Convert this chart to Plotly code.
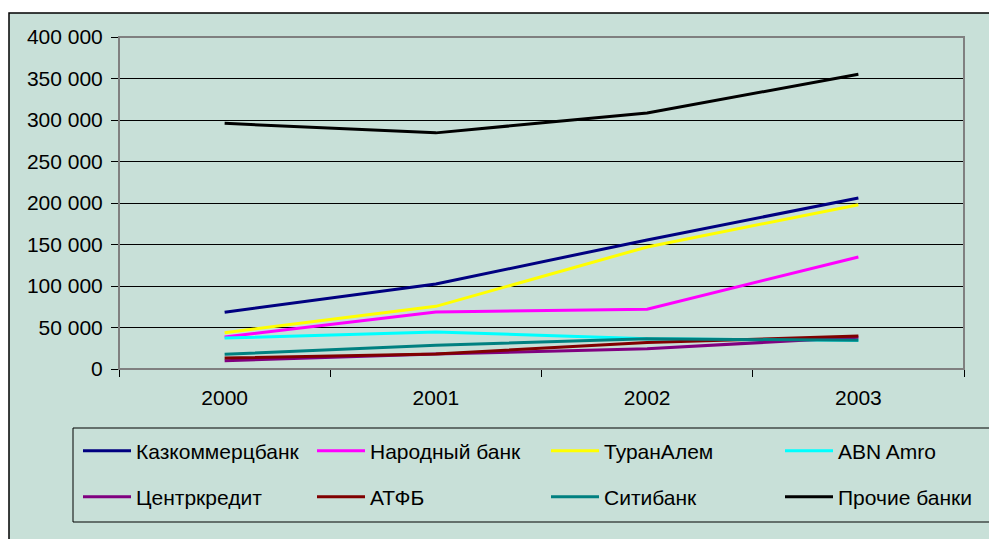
import plotly.graph_objects as go

years = ["2000", "2001", "2002", "2003"]
names = ["Казкоммерцбанк", "Народный банк", "ТуранАлем", "ABN Amro",
         "Центркредит", "АТФБ", "Ситибанк", "Прочие банки"]
kazkom = [68500, 102500, 155500, 206000]
narodny = [38500, 68700, 72000, 135000]
turanalem = [43700, 75500, 147000, 198000]
abn_amro = [37300, 44600, 36500, 34500]
centrkredit = [10000, 18000, 24500, 38200]
atfb = [13200, 18000, 32000, 39700]
citibank = [17700, 28500, 36500, 34500]
prochie = [296000, 284500, 308500, 355000]
y_ticks = [0, 50000, 100000, 150000, 200000, 250000, 300000, 350000, 400000]

series = [kazkom, narodny, turanalem, abn_amro, centrkredit, atfb, citibank, prochie]
colors = ["#000080", "#FF00FF", "#FFFF00", "#00FFFF",
          "#800080", "#800000", "#008080", "#000000"]

OFF = 8  # page body margin
W, H = 997 - OFF, 539 - OFF
L, R, T, B = 119 - OFF, 964 - OFF, 37 - OFF, 369 - OFF
pw, ph = R - L, B - T

def px_x(p):
    return (p - OFF - L) / pw

def px_y(p):
    return (B - (p - OFF)) / ph

FONT = "Liberation Sans, Arial, sans-serif"
FS = 21
fig = go.Figure()
layout_legends = {}
for i, (nm, vals, col) in enumerate(zip(names, series, colors)):
    key = "legend" if i == 0 else f"legend{i+1}"
    fig.add_trace(go.Scatter(x=years, y=vals, name=nm, mode="lines",
                             line=dict(color=col, width=3),
                             legend=key, hoverinfo="skip"))
    c, r = i % 4, i // 4
    layout_legends[key] = dict(
        x=px_x(78 + 234 * c), y=px_y(451 + 46 * r), xanchor="left", yanchor="middle",
        bgcolor="rgba(0,0,0,0)", borderwidth=0,
        font=dict(family=FONT, size=FS, color="black"),
        itemwidth=48, itemclick=False, itemdoubleclick=False)

fig.update_layout(
    width=W, height=H,
    margin=dict(l=L, r=W - R, t=T, b=H - B, autoexpand=False),
    paper_bgcolor="white",
    plot_bgcolor="#99CCFF",
    separators=", ",
    font=dict(family=FONT, size=FS, color="black"),
    showlegend=True,
    **layout_legends,
    xaxis=dict(type="category", range=[-0.5, 3.5], showgrid=False,
               showline=True, linecolor="black", linewidth=1,
               ticks="outside", ticklen=7, tickcolor="black", tickson="boundaries",
               ticklabelstandoff=10,
               tickfont=dict(family=FONT, size=FS, color="black"), fixedrange=True),
    yaxis=dict(range=[0, 400000], tickvals=y_ticks, tickformat=",d",
               showgrid=True, gridcolor="black", gridwidth=1,
               showline=True, linecolor="black", linewidth=1, zeroline=False,
               ticks="outside", ticklen=7, tickcolor="black",
               ticklabelstandoff=4,
               tickfont=dict(family=FONT, size=FS, color="black"), fixedrange=True),
    shapes=[
        dict(type="rect", xref="paper", yref="paper", layer="below",
             x0=px_x(9), x1=px_x(1010), y0=px_y(560), y1=px_y(13),
             fillcolor="#C8E0D8", line=dict(color="black", width=1.5)),
        dict(type="rect", xref="paper", yref="paper", layer="above",
             x0=0, x1=1, y0=0, y1=1,
             line=dict(color="#808080", width=2)),
        dict(type="rect", xref="paper", yref="paper", layer="above",
             x0=px_x(73), x1=px_x(1010), y0=px_y(522), y1=px_y(428),
             line=dict(color="black", width=1)),
    ],
)

fig.write_html("out.html")
